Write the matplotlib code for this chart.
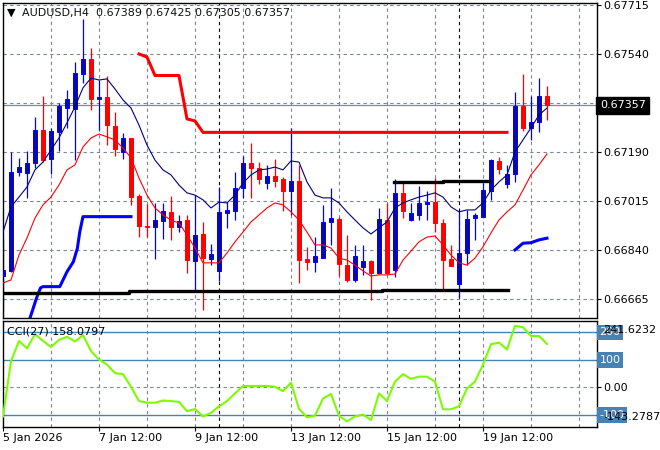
import matplotlib
matplotlib.use('Agg')
import matplotlib.pyplot as plt

# AUDUSD H4, bar 0 = 5 Jan 12:00
opens = [0.66747, 0.66765, 0.67119, 0.67115, 0.67151, 0.67269, 0.67165, 0.67261, 0.67347, 0.67344,
         0.67469, 0.67522, 0.67379, 0.67386, 0.67283, 0.67190, 0.67240, 0.67033, 0.66926, 0.66922,
         0.66944, 0.66976, 0.66922, 0.66947, 0.66801, 0.66897, 0.66808, 0.66765, 0.66972, 0.66979,
         0.67061, 0.67151, 0.67133, 0.67079, 0.67104, 0.67094, 0.67051, 0.67086, 0.66808, 0.66797,
         0.66811, 0.66940, 0.66951, 0.66786, 0.66733, 0.66779, 0.66801, 0.66758, 0.66947, 0.66769,
         0.67044, 0.66947, 0.66965, 0.67004, 0.67011, 0.66936, 0.66808, 0.66719, 0.66829, 0.66954,
         0.66958, 0.67051, 0.67158, 0.67076, 0.67111, 0.67354, 0.67276, 0.67297, 0.67389]
highs = [0.66883, 0.67190, 0.67169, 0.67194, 0.67315, 0.67390, 0.67276, 0.67365, 0.67411, 0.67511,
         0.67665, 0.67561, 0.67447, 0.67461, 0.67333, 0.67258, 0.67240, 0.67040, 0.67004, 0.67008,
         0.67008, 0.67033, 0.66965, 0.66965, 0.67036, 0.66940, 0.66861, 0.67065, 0.67011, 0.67119,
         0.67176, 0.67222, 0.67154, 0.67144, 0.67165, 0.67101, 0.67276, 0.67144, 0.66851, 0.66886,
         0.67001, 0.67061, 0.66958, 0.66894, 0.66858, 0.66858, 0.66804, 0.66990, 0.67008, 0.67094,
         0.67083, 0.67008, 0.67069, 0.67051, 0.67097, 0.66951, 0.66858, 0.66983, 0.66983, 0.66972,
         0.67079, 0.67165, 0.67172, 0.67144, 0.67404, 0.67469, 0.67390, 0.67454, 0.67425]
lows = [0.66619, 0.66761, 0.67104, 0.67026, 0.67133, 0.67154, 0.67111, 0.67194, 0.67276, 0.67161,
        0.67436, 0.67340, 0.67269, 0.67215, 0.67176, 0.67165, 0.67001, 0.66886, 0.66886, 0.66808,
        0.66879, 0.66876, 0.66904, 0.66758, 0.66690, 0.66626, 0.66786, 0.66729, 0.66919, 0.66947,
        0.67026, 0.67026, 0.67076, 0.67058, 0.67065, 0.66979, 0.66965, 0.66722, 0.66769, 0.66761,
        0.66811, 0.66858, 0.66747, 0.66726, 0.66726, 0.66751, 0.66661, 0.66754, 0.66754, 0.66744,
        0.66954, 0.66944, 0.66947, 0.66947, 0.66904, 0.66701, 0.66783, 0.66669, 0.66786, 0.66876,
        0.66958, 0.67019, 0.67111, 0.67061, 0.67083, 0.67265, 0.67233, 0.67261, 0.67305]
closes = [0.66769, 0.67119, 0.67136, 0.67151, 0.67269, 0.67161, 0.67265, 0.67354, 0.67379, 0.67472,
          0.67522, 0.67379, 0.67386, 0.67286, 0.67201, 0.67240, 0.67029, 0.66926, 0.66922, 0.66947,
          0.66979, 0.66922, 0.66944, 0.66804, 0.66894, 0.66811, 0.66826, 0.66976, 0.66983, 0.67061,
          0.67151, 0.67133, 0.67094, 0.67104, 0.67086, 0.67051, 0.67086, 0.66804, 0.66797, 0.66819,
          0.66940, 0.66954, 0.66790, 0.66733, 0.66819, 0.66801, 0.66758, 0.66951, 0.66758, 0.67044,
          0.66979, 0.66972, 0.67008, 0.67011, 0.66936, 0.66804, 0.66783, 0.66829, 0.66951, 0.66965,
          0.67054, 0.67161, 0.67129, 0.67111, 0.67354, 0.67276, 0.67297, 0.67390, 0.67357]

ma_fast = [0.66904, 0.66994, 0.67029, 0.67065, 0.67126, 0.67154, 0.67197, 0.67240, 0.67294, 0.67351,
           0.67419, 0.67454, 0.67447, 0.67451, 0.67415, 0.67376, 0.67347, 0.67286, 0.67215, 0.67161,
           0.67126, 0.67108, 0.67072, 0.67044, 0.67036, 0.67019, 0.66990, 0.67011, 0.67008, 0.67036,
           0.67079, 0.67108, 0.67126, 0.67129, 0.67136, 0.67126, 0.67158, 0.67154, 0.67083, 0.67036,
           0.67026, 0.67026, 0.67008, 0.66976, 0.66947, 0.66919, 0.66897, 0.66919, 0.66940, 0.66990,
           0.67008, 0.67019, 0.67029, 0.67036, 0.67044, 0.67029, 0.66994, 0.66976, 0.66983, 0.66983,
           0.67008, 0.67054, 0.67083, 0.67108, 0.67190, 0.67233, 0.67276, 0.67322, 0.67347]
ma_slow = [0.66722, 0.66733, 0.66822, 0.66883, 0.66954, 0.67001, 0.67029, 0.67072, 0.67126, 0.67144,
           0.67208, 0.67240, 0.67254, 0.67244, 0.67233, 0.67204, 0.67169, 0.67097, 0.67036, 0.66990,
           0.66965, 0.66947, 0.66936, 0.66894, 0.66847, 0.66794, 0.66794, 0.66794, 0.66829, 0.66869,
           0.66904, 0.66940, 0.66965, 0.66990, 0.67008, 0.67001, 0.66976, 0.66947, 0.66904, 0.66858,
           0.66858, 0.66847, 0.66811, 0.66804, 0.66786, 0.66765, 0.66747, 0.66751, 0.66751, 0.66754,
           0.66804, 0.66836, 0.66869, 0.66886, 0.66890, 0.66858, 0.66822, 0.66794, 0.66786, 0.66811,
           0.66851, 0.66901, 0.66947, 0.66976, 0.67001, 0.67054, 0.67108, 0.67144, 0.67183]

cci = [-106, 95, 169, 142, 194, 169, 147, 173, 184, 167, 190, 132, 101, 83, 52, 48, 2, -50, -56, -56,
       -48, -50, -53, -87, -79, -106, -93, -69, -50, -22, 5, 5, 5, 5, 2, -14, 17, -78, -109, -103,
       -41, -24, -103, -124, -106, -99, -119, -22, -50, 21, 48, 31, 39, 39, 21, -80, -80, -69, -4, 21,
       83, 157, 163, 138, 224, 219, 187, 187, 158]

# step indicator lines (bar index, price)
stop_red_x = [17, 18, 19, 22, 23, 24, 25, 63]
stop_red_y = [0.67540, 0.67529, 0.67463, 0.67463, 0.67308, 0.67301, 0.67260, 0.67260]
stop_blue1_x = [3.3, 4.2, 4.7, 5, 7.1, 8, 8.8, 9.3, 9.6, 10, 16]
stop_blue1_y = [0.66590, 0.66669, 0.66705, 0.66709, 0.66709, 0.66762, 0.66798, 0.66846, 0.66905, 0.66959, 0.66959]
stop_blue2_x = [64, 65, 66, 67, 68]
stop_blue2_y = [0.66840, 0.66864, 0.66866, 0.66876, 0.66882]
support_x = [-1, 15.75, 15.75, 47.4, 47.4, 63.1]
support_y = [0.66688, 0.66688, 0.66694, 0.66694, 0.66697, 0.66697]
resist_x = [48.9, 55, 55, 60.75]
resist_y = [0.67082, 0.67082, 0.67086, 0.67086]

price_levels = [0.66665, 0.66840, 0.67015, 0.67190, 0.67365, 0.67540, 0.67715]
price_labels = ['0.66665', '0.66840', '0.67015', '0.67190', '', '0.67540', '0.67715']
time_ticks = [0, 12, 24, 36, 48, 60]
time_labels = ['5 Jan 2026', '7 Jan 12:00', '9 Jan 12:00', '13 Jan 12:00', '15 Jan 12:00', '19 Jan 12:00']
week_starts = [27, 57]
last_price = 0.67357

plt.rcParams['font.family'] = ['DejaVu Sans']
plt.rcParams['font.size'] = 8

W, H = 660, 450
fig = plt.figure(figsize=(6.6, 4.5), dpi=100)
ax = fig.add_axes([2.5 / W, 1 - 318 / H, 594 / W, 314.7 / H])
ax2 = fig.add_axes([2.5 / W, 1 - 426.7 / H, 594 / W, 105.7 / H])

grid_col = '#7d8794'
dash = (0, (3, 3))
xs = list(range(len(opens)))

for a in (ax, ax2):
    a.set_xlim(-0.06, 74.19)
    for s in a.spines.values():
        s.set_color('black')
        s.set_linewidth(1)
    for gx in range(6, 74, 6):
        a.axvline(gx, color=grid_col, lw=0.8, ls=dash, zorder=0.5)
    for wx in week_starts:
        a.axvline(wx, color='black', lw=0.8, ls=dash, zorder=0.6)

# main panel
ax.set_ylim(0.66597, 0.67721)
for lv in price_levels:
    ax.axhline(lv, color=grid_col, lw=0.8, ls=dash, zorder=0.5)
ax.axhline(last_price, color='#7f8a96', lw=0.9, zorder=0.7)

for i in xs:
    o, h, l, c = opens[i], highs[i], lows[i], closes[i]
    up = c >= o
    wick = '#0000ff' if up else '#ff0000'
    ax.vlines(i, l, h, color=wick, lw=0.9, zorder=2)
    ax.bar(i, max(abs(c - o), 0.000015), bottom=min(o, c), width=0.6,
           color='#0a0aa0' if up else '#ff0000', edgecolor=wick, lw=0.7, zorder=3)

ax.plot(xs, ma_fast, color='#000080', lw=0.8, zorder=4)
ax.plot(xs, ma_slow, color='#ff0000', lw=0.8, zorder=4)
ax.plot(stop_red_x, stop_red_y, color='#ff0000', lw=2.2, zorder=4)
ax.plot(stop_blue1_x, stop_blue1_y, color='#0000ff', lw=2.2, zorder=4)
ax.plot(stop_blue2_x, stop_blue2_y, color='#0000ff', lw=2.2, zorder=4)
ax.plot(support_x, support_y, color='black', lw=2.4, zorder=4)
ax.plot(resist_x, resist_y, color='black', lw=2.4, zorder=4)

ax.set_xticks([])
ax.yaxis.tick_right()
ax.set_yticks(price_levels)
ax.set_yticklabels(price_labels)
ax.tick_params(axis='y', length=3, pad=2, width=0.8, labelsize=8)
for t in ax.get_yticklabels():
    t.set_horizontalalignment('left')
ax.text(1 + 3.5 / 594, last_price, '0.67357', transform=ax.get_yaxis_transform(),
        va='center', ha='left', color='white', fontsize=8, zorder=10, clip_on=False,
        bbox=dict(boxstyle='square,pad=0.32', fc='black', ec='black'))

fig.text(11 / W, 1 - 12.5 / H, '\u25bc', fontsize=8, ha='center', va='center')
fig.text(22 / W, 1 - 13 / H, 'AUDUSD,H4  0.67389 0.67425 0.67305 0.67357',
         fontsize=8, ha='left', va='center', color='#101010')

# CCI panel
ax2.set_ylim(-143.2787, 241.6232)
ax2.axhline(0, color=grid_col, lw=0.8, ls=dash, zorder=0.5)
for lv in (200, 100, -100):
    ax2.axhline(lv, color='#4682b4', lw=1.0, zorder=0.8)
ax2.plot(xs, cci, color='#7cfc00', lw=1.5, zorder=4)

ax2.yaxis.tick_right()
ax2.set_yticks([200, 100, 0, -100])
ax2.set_yticklabels(['', '', '0.00', ''])
ax2.tick_params(axis='y', length=3, pad=2, width=0.8, labelsize=8)
for lv, lab in ((200, '200'), (100, '100'), (-100, '-100')):
    ax2.text(1 + 3 / 594, lv, lab, transform=ax2.get_yaxis_transform(), va='center', ha='left',
             color='white', fontsize=8, zorder=8, clip_on=False,
             bbox=dict(boxstyle='square,pad=0.25', fc='#4682b4', ec='none'))
# scale extremes, drawn over the level boxes as MetaTrader does
ax2.text(1 + 6.5 / 594, 0.915, '241.6232', transform=ax2.transAxes, va='center', ha='left',
         fontsize=8, zorder=9, clip_on=False)
ax2.text(1 + 6.5 / 594, 0.092, '-143.2787', transform=ax2.transAxes, va='center', ha='left',
         fontsize=8, zorder=9, clip_on=False)
fig.text(7 / W, 1 - 331.5 / H, 'CCI(27) 158.0797', fontsize=8, ha='left', va='center')

ax2.set_xticks(time_ticks)
ax2.set_xticklabels(time_labels)
ax2.tick_params(axis='x', length=3, pad=1.5, width=0.8, labelsize=8)
for t in ax2.get_xticklabels():
    t.set_horizontalalignment('left')

fig.savefig('out.png', dpi=100, facecolor='white')
